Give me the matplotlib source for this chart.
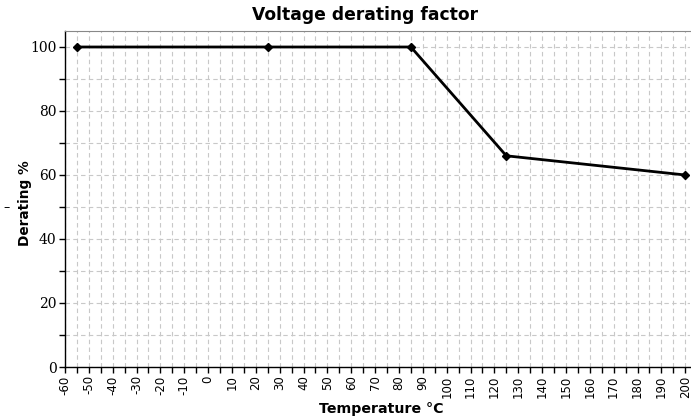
import matplotlib
matplotlib.use("Agg")
import matplotlib.pyplot as plt
from matplotlib.ticker import MultipleLocator

temperature = [-55, 25, 85, 125, 200]
derating = [100, 100, 100, 66, 60]
x_ticks = list(range(-60, 201, 10))
y_ticks = [0, 20, 40, 60, 80, 100]

fig = plt.figure(figsize=(6.91, 4.19), dpi=100)
ax = fig.add_axes([65/691, 1-367/419, 625/691, (367-31)/419])

ax.plot(temperature, derating, color='black', lw=2.0, marker='D', ms=4, zorder=3)

ax.set_xlim(-60, 202)
ax.set_ylim(0, 105)
ax.set_xticks(x_ticks)
ax.set_xticklabels([str(t) for t in x_ticks], rotation=90, fontsize=8.5, family='DejaVu Sans')
ax.xaxis.set_minor_locator(MultipleLocator(5))
ax.set_yticks(y_ticks)
ax.set_yticklabels([str(v) for v in y_ticks], fontsize=10, family='DejaVu Serif')
ax.yaxis.set_minor_locator(MultipleLocator(10))

ax.grid(True, which='both', color='#c8c8c8', linestyle=(0, (4, 3)), lw=0.8)
ax.set_axisbelow(True)
ax.tick_params(which='major', length=4, width=1, color='black', pad=2)
ax.tick_params(which='minor', length=4, width=1, color='black')

ax.spines['right'].set_visible(False)
ax.spines['top'].set_color('#888888')
ax.spines['left'].set_linewidth(1)
ax.spines['bottom'].set_linewidth(1)

fig.text(365/691, 1-15/419, 'Voltage derating factor', fontsize=12.3, fontweight='bold',
         ha='center', va='center')
fig.text(381/691, 1-409/419, 'Temperature °C', fontsize=10.2, fontweight='bold',
         ha='center', va='center')
fig.text(25/691, 1-203/419, 'Derating %', fontsize=9.8, fontweight='bold',
         ha='center', va='center', rotation=90)
fig.text(7/691, 1-208/419, '–', fontsize=9, ha='center', va='center')

fig.savefig('out.png', dpi=100)
